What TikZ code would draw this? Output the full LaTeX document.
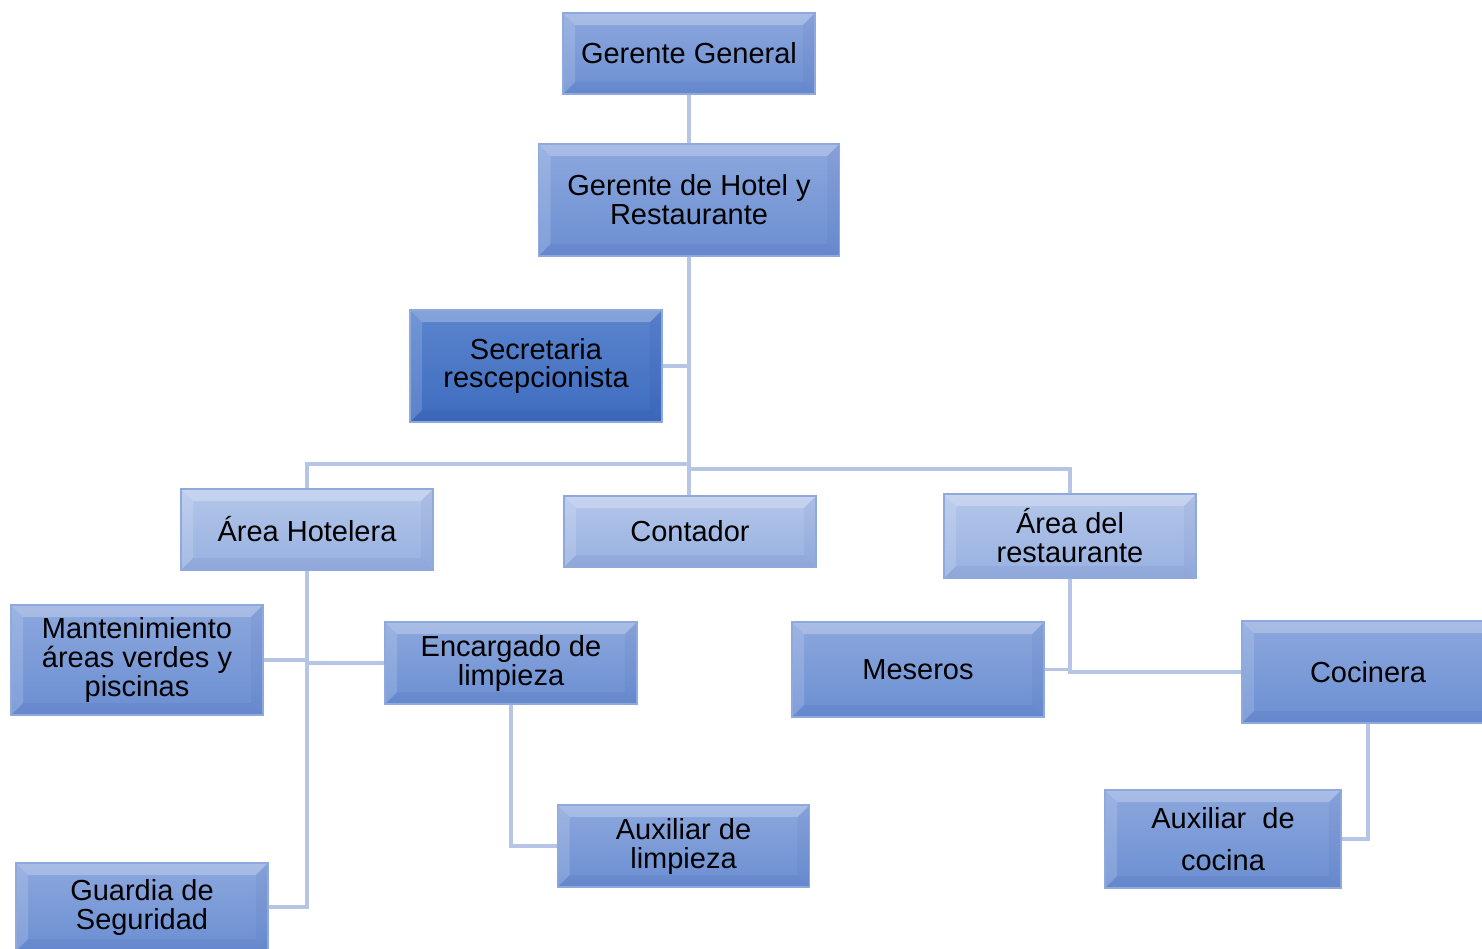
\documentclass[tikz,border=0pt]{standalone}
\usepackage{fontspec}
\setmainfont{Liberation Sans}
\usepackage{tikz}
\usetikzlibrary{calc}
\definecolor{midtop}{HTML}{8CA7DD}
\definecolor{midbot}{HTML}{6B8FD2}
\definecolor{darktop}{HTML}{5A84CD}
\definecolor{darkbot}{HTML}{3E6CBF}
\definecolor{lighttop}{HTML}{B4C6EA}
\definecolor{lightbot}{HTML}{97B1E0}
\definecolor{boxedge}{HTML}{8FA9DC}
\definecolor{link}{HTML}{B6C4E6}
\tikzset{
  box/.style={draw=boxedge,line width=0.8pt,align=center,text=black,inner sep=2pt,
    minimum width=5.04cm,font=\fontsize{16.5}{16.5}\selectfont,
    path picture={
      \coordinate (nw) at (path picture bounding box.north west);
      \coordinate (se) at (path picture bounding box.south east);
      \fill[white,opacity=.25] (nw) -- (nw -| se) -- ($(nw -| se)+(-12,12)$) -- ($(nw)+(12,12)$) -- cycle;
      \fill[white,opacity=.15] (nw) -- (se -| nw) -- ($(se -| nw)+(12,-12)$) -- ($(nw)+(12,12)$) -- cycle;
      \fill[black!60!blue,opacity=.05] (se) -- (se -| nw) -- ($(se -| nw)+(12,-12)$) -- ($(se)+(-12,-12)$) -- cycle;
      \fill[black!60!blue,opacity=.04] (se) -- (nw -| se) -- ($(nw -| se)+(-12,12)$) -- ($(se)+(-12,-12)$) -- cycle;
    }},
  midbox/.style={box,top color=midtop,bottom color=midbot},
  darkbox/.style={box,top color=darktop,bottom color=darkbot},
  lightbox/.style={box,top color=lighttop,bottom color=lightbot},
  conn/.style={draw=link,line width=1.9pt},
}

\begin{document}
\begin{tikzpicture}[x=0.02cm,y=-0.02cm]
  \clip (0,0) rectangle (1482,948);
  \fill[white] (0,0) rectangle (1482,948);
  % nodes (pixel grid, y grows downward)
  \node[midbox,minimum height=1.62cm] (gg) at (689,53.5) {Gerente General};
  \node[midbox,minimum width=6.02cm,minimum height=2.24cm] (ghr) at (689,200) {Gerente de Hotel y\\Restaurante};
  \node[darkbox,minimum height=2.24cm] (sec) at (536,366) {Secretaria\\rescepcionista};
  \node[lightbox,minimum height=1.62cm] (ah) at (307,529.5) {Área Hotelera};
  \node[lightbox,minimum height=1.42cm] (cont) at (690,531.5) {Contador};
  \node[lightbox,minimum height=1.68cm] (ar) at (1070,536) {Área del\\restaurante};
  \node[midbox,minimum height=2.2cm] (mant) at (137,660) {Mantenimiento\\áreas verdes y\\piscinas};
  \node[midbox,minimum height=1.64cm] (enc) at (511,663) {Encargado de\\limpieza};
  \node[midbox,minimum height=1.64cm] (auxl) at (683.5,846) {Auxiliar de\\limpieza};
  \node[midbox,minimum height=1.76cm] (guard) at (142,907) {Guardia de\\Seguridad};
  \node[midbox,minimum height=1.9cm] (mes) at (918,669.5) {Meseros};
  \node[midbox,minimum height=2.04cm] (coc) at (1368,672) {Cocinera};
  \node[midbox,minimum width=4.72cm,minimum height=1.96cm] (auxc) at (1223,839) {Auxiliar\ \ de\\[7pt]cocina};
  \coordinate (hj) at (689,464);
  \coordinate (rj) at (689,469);
  % links
  \draw[conn] (gg.south) -- (ghr.north);
  \draw[conn] (ghr.south) -- (ghr.south |- cont.north);
  \draw[conn] (sec.east) -- (sec.east -| ghr.south);
  \draw[conn] (ah.north) |- (hj);
  \draw[conn] (ar.north) |- (rj);
  \draw[conn] (ah.south) |- (guard.east);
  \draw[conn] (mant.east) -- (mant.east -| ah.south);
  \draw[conn] (enc.west) -- (enc.west -| ah.south);
  \draw[conn] (enc.south) |- (auxl.west);
  \draw[conn] (ar.south) |- (coc.west);
  \draw[conn] (mes.east) -- (mes.east -| ar.south);
  \draw[conn] (coc.south) |- (auxc.east);
\end{tikzpicture}
\end{document}
